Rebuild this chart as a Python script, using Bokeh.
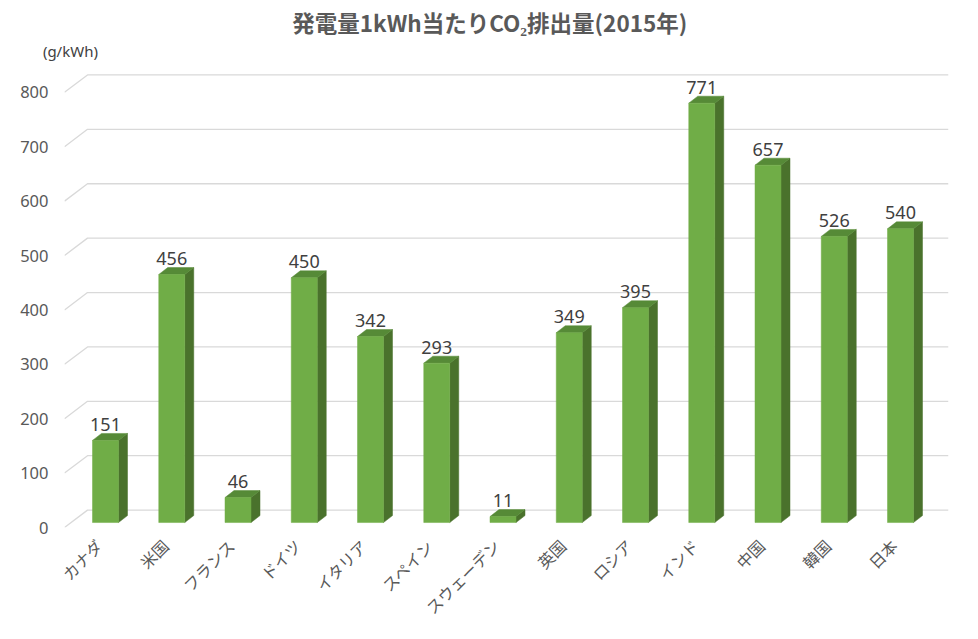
from math import pi
from bokeh.plotting import figure
from bokeh.models import FixedTicker, Range1d, LinearAxis
from bokeh.core.properties import value
from bokeh.embed import file_html
from bokeh.resources import INLINE

# data
countries = ["カナダ", "米国", "フランス", "ドイツ", "イタリア", "スペイン", "スウェーデン",
             "英国", "ロシア", "インド", "中国", "韓国", "日本"]
co2 = [151, 456, 46, 450, 342, 293, 11, 349, 395, 771, 657, 526, 540]
y_ticks = [0, 100, 200, 300, 400, 500, 600, 700, 800]

title = "発電量1kWh当たりCO₂排出量(2015年)"
unit = "(g/kWh)"

# geometry of the fake 3D look (pixels -> data units)
px_x = 66.25      # px per category
px_y = 0.5475     # px per g/kWh
x0, x1 = -0.619, 12.7245
y0, y1 = 0, 847.5
hw = 13 / px_x            # half width of front face
dx = 9 / px_x             # depth x
dy = 7 / px_y             # depth y
base = 5 / px_y           # bars sit a bit behind the front edge
wall_dx = 23 / px_x
wall_dy = 17.5 / px_y

jp = "Noto Sans CJK JP"

p = figure(width=962, height=630, x_range=Range1d(x0, x1), y_range=Range1d(y0, y1),
           output_backend="svg", toolbar_location=None,
           min_border_left=64, min_border_right=14, min_border_top=66, min_border_bottom=100)
p.outline_line_color = None
p.xgrid.visible = False
p.ygrid.visible = False
p.background_fill_color = "white"
p.border_fill_color = "white"

# back gridlines with slanted side wall
gx, gy = [], []
for t in y_ticks:
    gx.append([x0, x0 + wall_dx, x1])
    gy.append([t, t + wall_dy, t + wall_dy])
p.multi_line(gx, gy, line_color="#D9D9D9", line_width=1.3)

# bars
idx = list(range(len(countries)))
bottoms = [base] * len(co2)
tops = [v + base for v in co2]
side_x, side_y, top_x, top_y = [], [], [], []
for i, b, t in zip(idx, bottoms, tops):
    side_x.append([i + hw, i + hw + dx, i + hw + dx, i + hw])
    side_y.append([b, b + dy, t + dy, t])
    top_x.append([i - hw, i + hw, i + hw + dx, i - hw + dx])
    top_y.append([t, t, t + dy, t + dy])
p.patches(side_x, side_y, fill_color="#4A722C", line_color="#4A722C", line_width=0.5)
p.patches(top_x, top_y, fill_color="#568A37", line_color="#568A37", line_width=0.5)
p.vbar(x=idx, bottom=bottoms, top=tops, width=2 * hw, fill_color="#70AD47",
       line_color="#70AD47", line_width=0.5)

# data labels
p.text(x=idx, y=[t + dy + 9 / px_y for t in tops], text=[str(v) for v in co2],
       text_align="center", text_baseline="alphabetic",
       text_font=value("Noto Sans"), text_font_size="18px", text_color="#404040")

# axes
yax = p.left[0]
yax.ticker = FixedTicker(ticks=y_ticks)
yax.axis_line_color = None
yax.major_tick_line_color = None
yax.minor_tick_line_color = None
yax.major_tick_out = 0
yax.major_tick_in = 0
yax.major_label_standoff = 16
yax.major_label_text_font = "Noto Sans"
yax.major_label_text_font_size = "16.5px"
yax.major_label_text_color = "#595959"

xax = p.below[0]
label_pos = [round(i - 0.1, 2) for i in idx]
xax.ticker = FixedTicker(ticks=label_pos)
xax.major_label_overrides = {k: c for k, c in zip(label_pos, countries)}
xax.major_label_orientation = pi / 4
xax.axis_line_color = None
xax.major_tick_line_color = None
xax.minor_tick_line_color = None
xax.major_tick_out = 0
xax.major_tick_in = 0
xax.major_label_standoff = 15
xax.major_label_text_font = jp
xax.major_label_text_font_size = "16px"
xax.major_label_text_color = "#595959"


def text_axis(pos, txt, font, size, color, standoff, bold=False):
    # a bare single-tick axis above the plot, used to place a line of text
    ax = LinearAxis(ticker=FixedTicker(ticks=[pos]), major_label_overrides={pos: txt})
    ax.axis_line_color = None
    ax.major_tick_line_color = None
    ax.minor_tick_line_color = None
    ax.major_tick_out = 0
    ax.major_tick_in = 0
    ax.major_label_standoff = standoff
    ax.major_label_text_font = font
    ax.major_label_text_font_size = size
    ax.major_label_text_color = color
    if bold:
        ax.major_label_text_font_style = "bold"
    p.add_layout(ax, "above")


# unit, then title (outermost)
text_axis(-0.53, unit, "Noto Sans", "15px", "#404040", 6)
text_axis(5.8, title, jp, "22.5px", "#595959", 0, bold=True)

open("out.html", "w").write(file_html(p, INLINE))
